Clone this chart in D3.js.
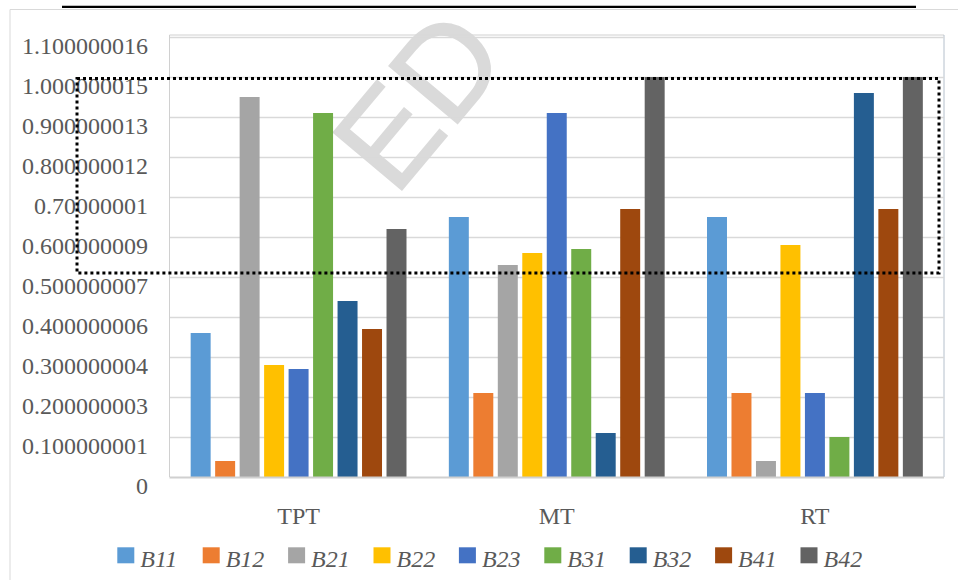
<!DOCTYPE html>
<html>
<head>
<meta charset="utf-8">
<script src="https://cdn.jsdelivr.net/npm/d3@7"></script>
<style>
  html, body { margin: 0; padding: 0; background: #ffffff; }
  svg { display: block; }
</style>
</head>
<body>
<svg id="chart" width="958" height="580"></svg>
<script>
// ---- data ----
const categories = ["TPT", "MT", "RT"];
const seriesNames = ["B11", "B12", "B21", "B22", "B23", "B31", "B32", "B41", "B42"];
const seriesColors = ["#5B9BD5", "#ED7D31", "#A5A5A5", "#FFC000", "#4472C4", "#70AD47", "#255E91", "#9E480E", "#636363"];
const valuesB11 = [0.36, 0.65, 0.65];
const valuesB12 = [0.04, 0.21, 0.21];
const valuesB21 = [0.95, 0.53, 0.04];
const valuesB22 = [0.28, 0.56, 0.58];
const valuesB23 = [0.27, 0.91, 0.21];
const valuesB31 = [0.91, 0.57, 0.10];
const valuesB32 = [0.44, 0.11, 0.96];
const valuesB41 = [0.37, 0.67, 0.67];
const valuesB42 = [0.62, 1.00, 1.00];
const tickLabels = ["0", "0.100000001", "0.200000003", "0.300000004", "0.400000006", "0.500000007",
  "0.600000009", "0.70000001", "0.800000012", "0.900000013", "1.000000015", "1.100000016"];

const seriesValues = [valuesB11, valuesB12, valuesB21, valuesB22, valuesB23, valuesB31, valuesB32, valuesB41, valuesB42];
const tickValues = tickLabels.map(Number);

// ---- layout ----
const svg = d3.select("#chart");
const plotL = 169.5, plotR = 944, plotT = 37, plotB = 477;
const textColor = "#595959";

// outer chart frame (partially visible)
svg.append("line").attr("x1", 10).attr("x2", 958).attr("y1", 9.5).attr("y2", 9.5)
  .attr("stroke", "#d9d9d9").attr("stroke-width", 1);
svg.append("line").attr("x1", 10).attr("x2", 10).attr("y1", 9.5).attr("y2", 580)
  .attr("stroke", "#d9d9d9").attr("stroke-width", 1);
// black rule at top
svg.append("line").attr("x1", 62).attr("x2", 916).attr("y1", 6.8).attr("y2", 6.8)
  .attr("stroke", "#000").attr("stroke-width", 2.3);

const x0 = d3.scaleBand().domain(categories).range([plotL, plotR]).paddingInner(0.164).paddingOuter(0.082);
const x1 = d3.scaleBand().domain(seriesNames).range([0, x0.bandwidth()]).paddingInner(0.184).paddingOuter(0);
const y = d3.scaleLinear().domain([0, tickValues[tickValues.length - 1]]).range([plotB, plotT]);

// plot area border top / right
svg.append("line").attr("x1", plotL).attr("x2", plotR).attr("y1", 35).attr("y2", 35)
  .attr("stroke", "#d0d0d0").attr("stroke-width", 1);
svg.append("line").attr("x1", plotR).attr("x2", plotR).attr("y1", 35).attr("y2", plotB)
  .attr("stroke", "#b5c0cc").attr("stroke-width", 1);

// gridlines
const grid = svg.append("g").attr("transform", `translate(${plotL},0)`)
  .call(d3.axisLeft(y).tickValues(tickValues.slice(1)).tickSize(-(plotR - plotL)).tickFormat(""));
grid.select(".domain").remove();
grid.selectAll(".tick line").attr("stroke", "#d9d9d9").attr("stroke-width", 1.3);

// y labels
const yAxis = svg.append("g").attr("transform", `translate(148,0)`)
  .call(d3.axisLeft(y).tickValues(tickValues).tickSize(0).tickPadding(0).tickFormat((d, i) => tickLabels[i]));
yAxis.select(".domain").remove();
yAxis.selectAll(".tick text")
  .attr("x", 0).attr("dy", null).attr("y", 16.5)
  .attr("text-anchor", "end")
  .attr("fill", textColor)
  .style("font-family", "'Liberation Serif', 'Times New Roman', serif")
  .style("font-size", "24px");

// left axis line
svg.append("line").attr("x1", plotL).attr("x2", plotL).attr("y1", 35).attr("y2", plotB)
  .attr("stroke", "#d0d0d0").attr("stroke-width", 1);

// watermark
svg.append("text").text("ED")
  .attr("transform", "translate(395,198) rotate(-50)")
  .attr("fill", "#d9d9d9")
  .attr("stroke", "#d9d9d9")
  .attr("stroke-width", 1.5)
  .attr("opacity", 0.95)
  .style("font-family", "'Liberation Sans', Arial, sans-serif")
  .style("font-size", "130px");

// bars
const groups = svg.append("g").selectAll("g").data(categories).join("g")
  .attr("transform", d => `translate(${x0(d)},0)`);
groups.selectAll("rect")
  .data((c, ci) => seriesNames.map((s, si) => ({ s, si, v: seriesValues[si][ci] })))
  .join("rect")
  .attr("x", d => x1(d.s))
  .attr("width", x1.bandwidth())
  .attr("y", d => y(d.v))
  .attr("height", d => plotB - y(d.v))
  .attr("fill", d => seriesColors[d.si]);

// bottom axis line
svg.append("line").attr("x1", plotL).attr("x2", plotR).attr("y1", plotB + 0.5).attr("y2", plotB + 0.5)
  .attr("stroke", "#d0d0d0").attr("stroke-width", 2);

// category labels
const xAxis = svg.append("g").attr("transform", `translate(0,${plotB})`)
  .call(d3.axisBottom(x0).tickSize(0).tickPadding(0));
xAxis.select(".domain").remove();
xAxis.selectAll(".tick text")
  .attr("y", 47).attr("dy", null)
  .attr("fill", textColor)
  .style("font-family", "'Liberation Serif', 'Times New Roman', serif")
  .style("font-size", "24px");

// dotted highlight box
svg.append("rect")
  .attr("x", 77).attr("y", y(0.996))
  .attr("width", 939 - 77).attr("height", y(0.51) - y(0.996))
  .attr("fill", "none").attr("stroke", "#000").attr("stroke-width", 3)
  .attr("stroke-dasharray", "3 3");

// legend
const legend = svg.append("g").selectAll("g").data(seriesNames).join("g")
  .attr("transform", (d, i) => `translate(${117.3 + i * 85.4},547.3)`);
legend.append("rect").attr("width", 17).attr("height", 16)
  .attr("fill", (d, i) => seriesColors[i]);
legend.append("text").text(d => d)
  .attr("x", 23).attr("y", 19.7)
  .attr("fill", textColor)
  .style("font-family", "'Liberation Serif', 'Times New Roman', serif")
  .style("font-style", "italic")
  .style("font-size", "24px");
</script>
</body>
</html>
